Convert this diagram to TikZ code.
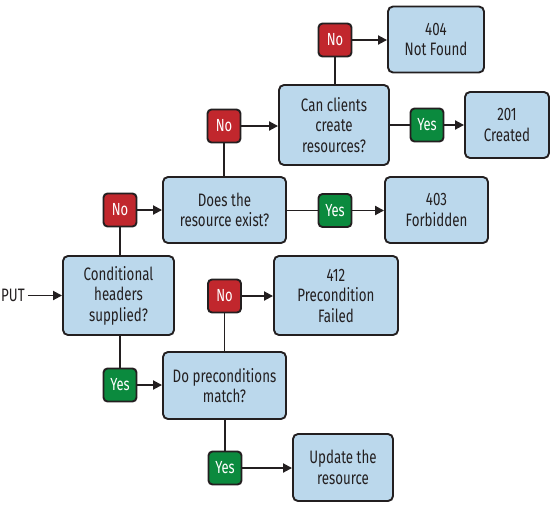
\documentclass[tikz,border=0pt]{standalone}
\usepackage{fontspec}
\setmainfont[FakeStretch=0.74]{Fira Sans}
\usetikzlibrary{arrows.meta}
\definecolor{boxblue}{HTML}{BBD8EC}
\definecolor{nored}{HTML}{C1272D}
\definecolor{yesgreen}{HTML}{0B8A3E}
\definecolor{edge}{HTML}{231F20}
\tikzset{
  stepbox/.style={draw=edge, line width=1.9pt, fill=boxblue, rounded corners=5pt,
    align=center, inner sep=0pt, font=\fontsize{18}{20.5}\selectfont, text=edge},
  nolabel/.style={draw=edge, line width=1.9pt, fill=nored, rounded corners=4pt,
    minimum width=33pt, minimum height=33pt, inner sep=0pt, text=white,
    font=\fontsize{17.5}{20}\selectfont},
  yeslabel/.style={nolabel, fill=yesgreen},
  conn/.style={draw=edge, line width=1.9pt},
  arr/.style={conn, -{Triangle[length=9pt,width=9pt]}},
}
\begin{document}
\begin{tikzpicture}[x=1pt, y=-1pt]
\useasboundingbox (0,0) rectangle (559,509);
% boxes
\node[stepbox, minimum width=96pt, minimum height=66pt] (nf) at (436,39.5) {404\\Not Found};
\node[stepbox, minimum width=110pt, minimum height=80pt] (can) at (334,125) {Can clients\\create\\resources?};
\node[stepbox, minimum width=84pt, minimum height=66pt] (cr) at (507,125) {201\\Created};
\node[stepbox, minimum width=103pt, minimum height=66pt] (fb) at (436.5,210) {403\\Forbidden};
\node[stepbox, minimum width=123pt, minimum height=66pt] (ex) at (224.5,210) {Does the\\resource exist?};
\node[stepbox, minimum width=111pt, minimum height=79pt] (cond) at (118.5,295.5) {Conditional\\headers\\supplied?};
\node[stepbox, minimum width=124pt, minimum height=79pt] (pf) at (336,295.5) {412\\Precondition\\Failed};
\node[stepbox, minimum width=123pt, minimum height=67pt] (pm) at (224.5,385.5) {Do preconditions\\match?};
\node[stepbox, minimum width=100pt, minimum height=67pt] (up) at (343,467.5) {Update the\\resource};
% yes / no
\node[nolabel] (n1) at (335,40) {No};
\node[yeslabel] (y1) at (427,125) {Yes};
\node[nolabel] (n2) at (224,126) {No};
\node[yeslabel] (y2) at (335,210.5) {Yes};
\node[nolabel] (n3) at (120,210) {No};
\node[nolabel] (n4) at (224.5,296) {No};
\node[yeslabel] (y3) at (120,385) {Yes};
\node[yeslabel] (y4) at (225,468) {Yes};
\node[font=\fontsize{18}{20}\selectfont, text=edge, inner sep=0pt, anchor=west] (put) at (1,295.5) {PUT};
% connectors
\draw[arr] (put.east) ++(3pt,0) -- (cond.west);
\draw[conn] (cond.north -| n3) -- (n3);
\draw[arr] (n3) -- (n3 -| ex.west);
\draw[conn] (ex.north -| n2) -- (n2);
\draw[arr] (n2) -- (n2 -| can.west);
\draw[conn] (can.north -| n1) -- (n1);
\draw[arr] (n1) -- (n1 -| nf.west);
\draw[conn] (can.east |- y1) -- (y1);
\draw[arr] (y1) -- (y1 -| cr.west);
\draw[conn] (ex.east |- y2) -- (y2);
\draw[arr] (y2) -- (y2 -| fb.west);
\draw[conn] (cond.south -| y3) -- (y3);
\draw[arr] (y3) -- (y3 -| pm.west);
\draw[conn] (pm.north -| n4) -- (n4);
\draw[arr] (n4) -- (n4 -| pf.west);
\draw[conn] (pm.south -| y4) -- (y4);
\draw[arr] (y4) -- (y4 -| up.west);
\end{tikzpicture}
\end{document}
